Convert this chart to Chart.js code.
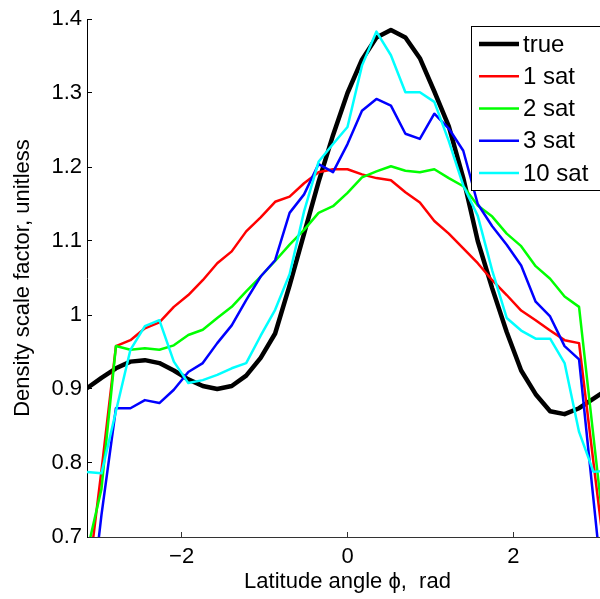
<!DOCTYPE html>
<html>
<head>
<meta charset="utf-8">
<script src="https://cdn.jsdelivr.net/npm/chart.js@4"></script>
<style>
html, body { margin: 0; padding: 0; background: #fff; overflow: hidden; }
</style>
</head>
<body>
<canvas id="myChart" width="610" height="599"></canvas>
<script>
// latitude samples, degrees (plotted in radians)
const latitudeDeg = [-180, -170, -160, -150, -140, -130, -120, -110, -100, -90, -80, -70, -60, -50, -40, -30, -20, -10,
  0, 10, 20, 30, 40, 50, 60, 70, 80, 90, 100, 110, 120, 130, 140, 150, 160, 170, 180];

const trueScale = [0.901, 0.915, 0.928, 0.937, 0.939, 0.935, 0.925, 0.913, 0.904, 0.900, 0.904, 0.918, 0.942, 0.975, 1.040, 1.110, 1.180, 1.243,
  1.300, 1.345, 1.375, 1.385, 1.375, 1.347, 1.302, 1.255, 1.185, 1.100, 1.036, 0.977, 0.925, 0.893, 0.870, 0.866, 0.874, 0.887, 0.900];
const sat1 = [0.63, 0.79, 0.958, 0.966, 0.982, 0.990, 1.011, 1.027, 1.047, 1.070, 1.086, 1.113, 1.132, 1.153, 1.160, 1.178, 1.193, 1.197,
  1.197, 1.190, 1.185, 1.182, 1.166, 1.152, 1.127, 1.110, 1.090, 1.070, 1.047, 1.027, 1.006, 0.993, 0.979, 0.966, 0.962, 0.80, 0.64];
const sat2 = [0.68, 0.765, 0.958, 0.953, 0.955, 0.953, 0.959, 0.973, 0.980, 0.996, 1.011, 1.032, 1.052, 1.073, 1.095, 1.115, 1.138, 1.147,
  1.165, 1.186, 1.194, 1.201, 1.195, 1.193, 1.197, 1.185, 1.174, 1.148, 1.133, 1.110, 1.093, 1.066, 1.049, 1.025, 1.011, 0.835, 0.66];
const sat3 = [0.56, 0.73, 0.874, 0.874, 0.885, 0.881, 0.899, 0.923, 0.935, 0.962, 0.986, 1.020, 1.052, 1.074, 1.138, 1.163, 1.204, 1.193,
  1.231, 1.276, 1.292, 1.283, 1.245, 1.238, 1.272, 1.252, 1.222, 1.150, 1.120, 1.095, 1.067, 1.018, 0.998, 0.958, 0.940, 0.75, 0.56];
const sat10 = [0.788, 0.786, 0.870, 0.953, 0.985, 0.993, 0.937, 0.908, 0.912, 0.919, 0.928, 0.935, 0.972, 1.007, 1.055, 1.140, 1.207, 1.231,
  1.254, 1.337, 1.383, 1.351, 1.301, 1.301, 1.288, 1.235, 1.175, 1.134, 1.060, 0.996, 0.979, 0.968, 0.968, 0.935, 0.842, 0.788, 0.79];

const xTicks = [-2, 0, 2];
const yTicks = [0.7, 0.8, 0.9, 1.0, 1.1, 1.2, 1.3, 1.4];
const yTickLabels = ['0.7', '0.8', '0.9', '1', '1.1', '1.2', '1.3', '1.4'];

const FONT = "'Liberation Sans', Arial, sans-serif";

function toPoints(vals) {
  return vals.map((v, i) => ({ x: latitudeDeg[i] * Math.PI / 180, y: v }));
}

// boxed legend in the top right corner, like the matlab one
const boxLegend = {
  id: 'boxLegend',
  afterDraw(chart) {
    const ctx = chart.ctx;
    ctx.save();
    ctx.fillStyle = '#fff';
    ctx.fillRect(471, 26, 140, 165);
    ctx.strokeStyle = '#000';
    ctx.lineWidth = 1;
    ctx.strokeRect(471.5, 26.5, 140, 164);
    ctx.font = '24px ' + FONT;
    ctx.textBaseline = 'middle';
    chart.data.datasets.forEach(function(ds, i) {
      const y = 44 + i * 32.25;
      ctx.strokeStyle = ds.borderColor;
      ctx.lineWidth = ds.borderWidth;
      ctx.beginPath();
      ctx.moveTo(479, y);
      ctx.lineTo(519, y);
      ctx.stroke();
      ctx.fillStyle = '#000';
      ctx.fillText(ds.label, 523, y + 1);
    });
    ctx.restore();
  }
};

var ctx = document.getElementById('myChart').getContext('2d');
var chart = new Chart(ctx, {
  type: 'line',
  data: {
    datasets: [
      { label: 'true', data: toPoints(trueScale), borderColor: '#000000', borderWidth: 4.5, order: 5 },
      { label: '1 sat', data: toPoints(sat1), borderColor: '#ff0000', borderWidth: 2.5, order: 4 },
      { label: '2 sat', data: toPoints(sat2), borderColor: '#00ff00', borderWidth: 2.5, order: 3 },
      { label: '3 sat', data: toPoints(sat3), borderColor: '#0000ff', borderWidth: 2.5, order: 2 },
      { label: '10 sat', data: toPoints(sat10), borderColor: '#00ffff', borderWidth: 2.5, order: 1 }
    ]
  },
  options: {
    responsive: false,
    animation: false,
    events: [],
    layout: { padding: { top: 19, right: 2, bottom: 0, left: 0 } },
    elements: {
      point: { radius: 0 },
      line: { tension: 0, fill: false, borderJoinStyle: 'round' }
    },
    datasets: { line: { clip: 0 } },
    plugins: { legend: { display: false }, tooltip: { enabled: false } },
    scales: {
      x: {
        type: 'linear',
        min: -Math.PI,
        max: Math.PI,
        afterBuildTicks: function(s) { s.ticks = xTicks.map(v => ({ value: v })); },
        afterFit: function(s) { s.height = 62; s.paddingLeft = 0; s.paddingRight = 0; },
        ticks: {
          callback: v => (v < 0 ? '\u2212' + Math.abs(v) : String(v)),
          font: { size: 22, family: FONT },
          color: '#000',
          padding: 12,
          maxRotation: 0
        },
        grid: { drawOnChartArea: false, tickLength: -5, color: '#333' },
        border: { color: '#333', width: 1 },
        title: {
          display: true,
          text: 'Latitude angle \u03d5,  rad',
          font: { size: 22, family: FONT },
          color: '#000',
          padding: { top: 0, bottom: 4 }
        }
      },
      y: {
        min: 0.7,
        max: 1.4,
        afterBuildTicks: function(s) { s.ticks = yTicks.map(v => ({ value: v })); },
        afterFit: function(s) { s.width = 87; s.paddingTop = 0; s.paddingBottom = 0; },
        ticks: {
          callback: (v, i) => yTickLabels[i],
          font: { size: 22, family: FONT },
          color: '#000',
          padding: 10
        },
        grid: { drawOnChartArea: false, tickLength: -5, color: '#000' },
        border: { color: '#000', width: 1 },
        title: {
          display: true,
          text: 'Density scale factor, unitless',
          font: { size: 22, family: FONT },
          color: '#000',
          padding: { top: 10, bottom: 0 }
        }
      }
    }
  },
  plugins: [boxLegend]
});
</script>
</body>
</html>
